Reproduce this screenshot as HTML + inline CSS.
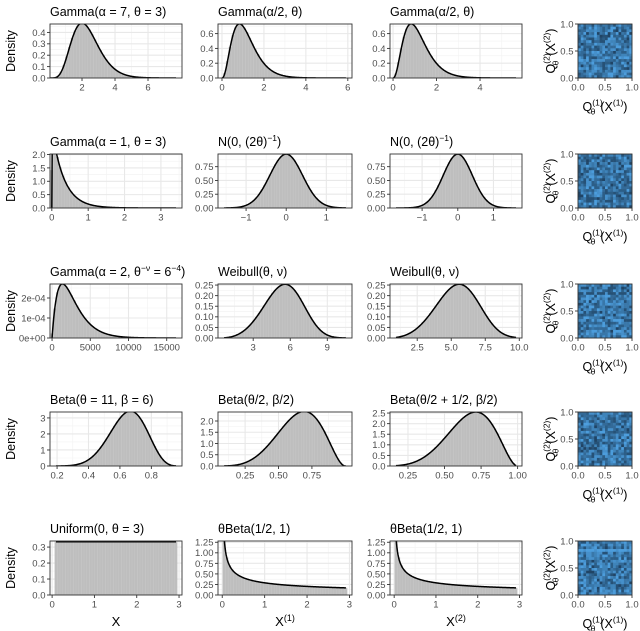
<!DOCTYPE html>
<html><head><meta charset="utf-8"><style>
body{margin:0;background:#fff;}
svg{display:block;font-family:"Liberation Sans",sans-serif;}
</style></head><body>
<svg id="fig" width="640" height="631" viewBox="0 0 640 631" xmlns="http://www.w3.org/2000/svg"></svg>
<script>
// ---- data ----
const titles=[
 'Gamma(α = 7, θ = 3)','Gamma(α/2, θ)','Gamma(α/2, θ)',
 'Gamma(α = 1, θ = 3)','N(0, (2θ)^{−1})','N(0, (2θ)^{−1})',
 'Gamma(α = 2, θ^{−ν} = 6^{−4})','Weibull(θ, ν)','Weibull(θ, ν)',
 'Beta(θ = 11, β = 6)','Beta(θ/2, β/2)','Beta(θ/2 + 1/2, β/2)',
 'Uniform(0, θ = 3)','θBeta(1/2, 1)','θBeta(1/2, 1)'];
const distTypes=['gamma','gamma','gamma','gamma','normal','normal','gamma','weibull','weibull','beta','beta','beta','uniform','sbeta','sbeta'];
const distP1=[7,3.5,3.5,1,0,0,2,4,4,11,5.5,6,0,0.5,0.5];
const distP2=[1/3,1/3,1/3,1/3,0.408,0.408,1360,6,6,6,3,3,3,3,3];
const xDomains=[[0.06,8.06],[-0.19,6.2],[-0.14,5.93],[-0.05,3.58],[-1.7,1.64],[-1.9,1.8],[-270,17000],[0.15,11],[0.5,10.2],[0.155,0.995],[0.047,1.05],[0.127,1.03],[-0.05,3.07],[-0.1,3.06],[-0.1,3.06]];
const yTops=[0.474,0.73,0.73,2.02,0.98,0.98,2.7e-4,0.255,0.255,3.37,2.4,2.55,0.338,1.28,1.28];
const xTicks=[['2','4','6'],['0','2','4','6'],['0','2','4'],['0','1','2','3'],['-1','0','1'],['-1','0','1'],['0','5000','10000','15000'],['3','6','9'],['2.5','5.0','7.5','10.0'],['0.2','0.4','0.6','0.8'],['0.25','0.50','0.75'],['0.25','0.50','0.75','1.00'],['0','1','2','3'],['0','1','2','3'],['0','1','2','3']];
const yTicks=[['0.0','0.1','0.2','0.3','0.4'],['0.0','0.2','0.4','0.6'],['0.0','0.2','0.4','0.6'],['0.0','0.5','1.0','1.5','2.0'],['0.00','0.25','0.50','0.75'],['0.00','0.25','0.50','0.75'],['0e+00','1e-04','2e-04'],['0.00','0.05','0.10','0.15','0.20','0.25'],['0.00','0.05','0.10','0.15','0.20','0.25'],['0','1','2','3'],['0.0','0.5','1.0','1.5','2.0'],['0.0','0.5','1.0','1.5','2.0','2.5'],['0.0','0.1','0.2','0.3'],['0.00','0.25','0.50','0.75','1.00','1.25'],['0.00','0.25','0.50','0.75','1.00','1.25']];
const heatDigits=
 "57468395746285736495"+"64758396475829364758"+"75869475638492756483"+"48576936485729485736"+
 "69485736495827364859"+"57364859273648597364"+"86475938475629384756"+"47586937465829374658"+
 "65748396574829365748"+"58469375846293758469"+"74658392746583927465"+"36485947365849273658"+
 "85746398576429385746"+"67584936758493675849"+"49375864937586493758"+"76849375684937568493"+
 "58374695837469583746"+"68497536849753684975"+"47569384756938475693"+"85674938567493856749";
const heatTicks=['0.0','0.5','1.0'];
const bottomLabels=['X','X^{(1)}','X^{(2)}'];

// ---- layout ----
const colX=[[50,182],[218,352],[390,522]];
const heatX=[578,632];
const rowTop=[24,154,284,412,541];
const PH=54;
const NS='http://www.w3.org/2000/svg';
const svg=document.getElementById('fig');
function mk(tag,attrs,parent){const e=document.createElementNS(NS,tag);for(const k in attrs)e.setAttribute(k,attrs[k]);(parent||svg).appendChild(e);return e;}
function lgamma(z){const c=[0.99999999999980993,676.5203681218851,-1259.1392167224028,771.32342877765313,-176.61502916214059,12.507343278686905,-0.13857109526572012,9.9843695780195716e-6,1.5056327351493116e-7];
 if(z<0.5)return Math.log(Math.PI/Math.sin(Math.PI*z))-lgamma(1-z);z-=1;let x=c[0];for(let i=1;i<9;i++)x+=c[i]/(z+i);const t=z+7.5;return 0.5*Math.log(2*Math.PI)+(z+0.5)*Math.log(t)-t+Math.log(x);}
function pdf(i,x){const t=distTypes[i],a=distP1[i],b=distP2[i];
 if(t==='gamma'){if(x<=0)return 0;return Math.exp((a-1)*Math.log(x)-x/b-lgamma(a)-a*Math.log(b));}
 if(t==='normal'){return Math.exp(-0.5*((x-a)/b)**2)/(b*Math.sqrt(2*Math.PI));}
 if(t==='weibull'){if(x<=0)return 0;return (a/b)*Math.pow(x/b,a-1)*Math.exp(-Math.pow(x/b,a));}
 if(t==='beta'){if(x<=0||x>=1)return 0;return Math.exp((a-1)*Math.log(x)+(b-1)*Math.log(1-x)-(lgamma(a)+lgamma(b)-lgamma(a+b)));}
 if(t==='uniform'){return (x>=0&&x<=b)?1/b:0;}
 if(t==='sbeta'){if(x<=0||x>b)return 0;const u=x/b;return a*Math.pow(u,a-1)/b;}
 return 0;}
function richText(parent,str,attrs,supSize){
 const t=mk('text',attrs,parent);const parts=str.split(/(\^\{[^}]*\})/);
 parts.forEach(p=>{if(!p)return;const m=p.match(/^\^\{(.*)\}$/);
  if(m){const s=mk('tspan',{'font-size':supSize,'dy':-5},t);s.textContent=m[1];const r=mk('tspan',{'dy':5,'font-size':supSize},t);r.textContent='\u200b';}
  else{const s=mk('tspan',{},t);s.textContent=p;}});
 return t;}
function fmt(s){return s.replace('-','\u2212');}
let clipId=0;
function drawPanel(i,x0,x1,y0){
 const g=mk('g',{});
 
 
 const y1=y0+PH;const d=xDomains[i];
 const sx=v=>x0+(v-d[0])/(d[1]-d[0])*(x1-x0);
 const sy=v=>y1-v/yTops[i]*PH;
 mk('rect',{x:x0,y:y0,width:x1-x0,height:PH,fill:'#fff'},g);
 const xt=xTicks[i].map(parseFloat),yt=yTicks[i].map(parseFloat);
 const dx=xt.length>1?xt[1]-xt[0]:1,dy=yt[1]-yt[0];
 for(let v=xt[0]-dx*3+dx/2;v<d[1];v+=dx){if(v>d[0])mk('line',{x1:sx(v),x2:sx(v),y1:y0,y2:y1,stroke:'#f2f2f2','stroke-width':0.6},g);}
 for(let v=dy/2;v<yTops[i];v+=dy){mk('line',{x1:x0,x2:x1,y1:sy(v),y2:sy(v),stroke:'#f2f2f2','stroke-width':0.6},g);}
 xt.forEach(v=>mk('line',{x1:sx(v),x2:sx(v),y1:y0,y2:y1,stroke:'#e8e8e8','stroke-width':1.1},g));
 yt.forEach(v=>mk('line',{x1:x0,x2:x1,y1:sy(v),y2:sy(v),stroke:'#e8e8e8','stroke-width':1.1},g));
 const cid='clip'+(clipId++);
 const cp=mk('clipPath',{id:cid},g);mk('rect',{x:x0,y:y0,width:x1-x0,height:PH},cp);
 const inner=mk('g',{'clip-path':'url(#'+cid+')'},g);
 const span=(d[1]-d[0])/1.1;let lo=d[0]+0.05*span; const hi=d[1]-0.05*span;
 if(distTypes[i]==='gamma') lo=Math.min(lo,Math.max(d[0],0));
 const nb=45, w=(hi-lo)/nb;
 let bars='';
 for(let k=0;k<=nb;k++){const a=lo+(k-0.5)*w,b=a+w;let s=0;for(let j=0;j<12;j++)s+=pdf(i,a+(j+0.5)*w/12);const h=s/12;
  if(h<=0)continue;const X0=sx(a),X1=sx(b),Y=sy(h);bars+=`M${X0.toFixed(2)},${y1}V${Y.toFixed(2)}H${X1.toFixed(2)}V${y1}Z`;}
 const hp=mk('path',{d:bars,fill:'#bebebe',stroke:'#c9c9c9','stroke-width':0.3},inner);
 
 
 let pts=[];const N=240;
 for(let k=0;k<=N;k++){const x=lo+(hi-lo)*k/N;const v=Math.min(pdf(i,x),yTops[i]*3);pts.push(sx(x).toFixed(2)+','+sy(v).toFixed(2));}
 const cv=mk('polyline',{points:pts.join(' '),fill:'none',stroke:'#000','stroke-width':1.5},inner);
 
 
 mk('rect',{x:x0,y:y0,width:x1-x0,height:PH,fill:'none',stroke:'#333','stroke-width':0.9},g);
 xTicks[i].forEach((s,k)=>{const X=sx(xt[k]);mk('line',{x1:X,x2:X,y1:y1,y2:y1+3,stroke:'#333','stroke-width':0.9},g);
  const t=mk('text',{x:X,y:y1+12.5,'text-anchor':'middle','font-size':9.5,fill:'#4d4d4d'},g);t.textContent=fmt(s);
  });
 yTicks[i].forEach((s,k)=>{const Y=sy(yt[k]);mk('line',{x1:x0-3,x2:x0,y1:Y,y2:Y,stroke:'#333','stroke-width':0.9},g);
  const t=mk('text',{x:x0-4.5,y:Y+3.4,'text-anchor':'end','font-size':9.5,fill:'#4d4d4d'},g);t.textContent=s;
  });
 const tt=richText(g,titles[i],{x:x0,y:y0-8,'font-size':12.5,fill:'#000'},8.5);
 
 
}
function lerp(a,b,t){return Math.round(a+(b-a)*t);}
function drawHeat(r,y0){
 const g=mk('g',{});
 
 
 const x0=heatX[0],x1=heatX[1],y1=y0+PH,n=20,cw=(x1-x0)/n,ch=PH/n;
 for(let a=0;a<n;a++)for(let b=0;b<n;b++){const idx=(a*37+b*61+a*b*13+r*97)%400;const v=parseInt(heatDigits[idx])/9*0.85;
  const c=`rgb(${lerp(19,86,v)},${lerp(43,177,v)},${lerp(67,247,v)})`;
  const rc=mk('rect',{x:(x0+b*cw).toFixed(2),y:(y0+a*ch).toFixed(2),width:(cw+0.3).toFixed(2),height:(ch+0.3).toFixed(2),fill:c},g);
  
  }
 mk('rect',{x:x0,y:y0,width:x1-x0,height:PH,fill:'none',stroke:'#333','stroke-width':0.9},g);
 heatTicks.forEach(s=>{const v=parseFloat(s);const X=x0+v*(x1-x0),Y=y1-v*PH;
  mk('line',{x1:X,x2:X,y1:y1,y2:y1+3,stroke:'#333','stroke-width':0.9},g);
  mk('line',{x1:x0-3,x2:x0,y1:Y,y2:Y,stroke:'#333','stroke-width':0.9},g);
  const t1=mk('text',{x:X,y:y1+12.5,'text-anchor':'middle','font-size':9.5,fill:'#4d4d4d'},g);t1.textContent=s;
  const t2=mk('text',{x:x0-4.5,y:Y+3.4,'text-anchor':'end','font-size':9.5,fill:'#4d4d4d'},g);t2.textContent=s;});
 const xl=mk('text',{x:(x0+x1)/2,y:y1+33,'text-anchor':'middle','font-size':12.5,fill:'#000'},g);
 
 
 xl.innerHTML='Q<tspan font-size="8.5" dy="-5.5">(1)</tspan><tspan font-size="8.5" dx="-12" dy="9">θ</tspan><tspan dx="5" dy="-3.5">(X</tspan><tspan font-size="8.5" dy="-5.5">(1)</tspan><tspan dy="5.5">)</tspan>';
 const yl=mk('text',{x:0,y:0,'text-anchor':'middle','font-size':12.5,fill:'#000',transform:`translate(555,${y0+PH/2}) rotate(-90)`},g);
 
 
 yl.innerHTML='Q<tspan font-size="8.5" dy="-5.5">(2)</tspan><tspan font-size="8.5" dx="-12" dy="9">θ</tspan><tspan dx="5" dy="-3.5">(X</tspan><tspan font-size="8.5" dy="-5.5">(2)</tspan><tspan dy="5.5">)</tspan>';
}
for(let r=0;r<5;r++){
 for(let c=0;c<3;c++)drawPanel(r*3+c,colX[c][0],colX[c][1],rowTop[r]);
 drawHeat(r,rowTop[r]);
 const dl=mk('text',{x:0,y:0,'text-anchor':'middle','font-size':12.5,fill:'#000',transform:`translate(15,${rowTop[r]+PH/2}) rotate(-90)`});
 dl.textContent='Density';
 
 
}
bottomLabels.forEach((s,c)=>{const t=richText(svg,s,{x:(colX[c][0]+colX[c][1])/2,y:626,'text-anchor':'middle','font-size':13,fill:'#000'},9);
 
 });
</script>
</body></html>
